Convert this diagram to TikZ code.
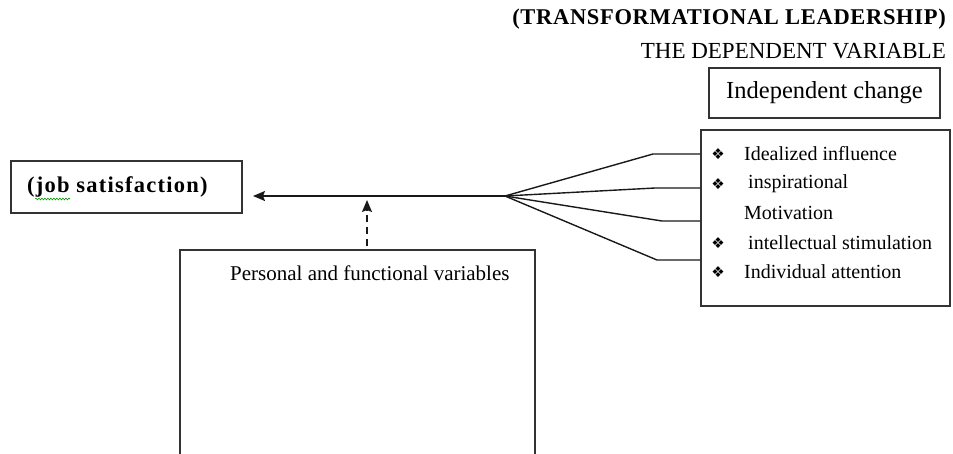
\documentclass[tikz,border=0pt]{standalone}
\usepackage{fontspec}
\setmainfont{Liberation Serif}
\newfontfamily\symfont{DejaVu Sans}
\usetikzlibrary{arrows.meta,decorations.pathmorphing}
\begin{document}
\begin{tikzpicture}[x=1pt,y=-1pt,
  box/.style={draw=black!80,line width=1.4pt,inner sep=0pt},
  conn/.style={line width=1.4pt,draw=black!90},
  txt/.style={inner sep=0pt,text=black},
  item/.style={txt,anchor=west,font=\fontsize{20}{22}\selectfont},
  bul/.style={txt,anchor=center,font=\symfont\fontsize{15}{16}\selectfont},
  tip/.style={-{Stealth[length=12pt,width=10pt,inset=2pt]}}]
\useasboundingbox (0,0) rectangle (953,453);
\clip (0,0) rectangle (953,453);

% headings
\node[txt,anchor=east,font=\bfseries\fontsize{22.5}{24}\selectfont\addfontfeatures{LetterSpace=3}] (title) at (946,19) {(TRANSFORMATIONAL LEADERSHIP)};
\node[txt,anchor=east,font=\fontsize{23}{25}\selectfont] (dep) at (946,51) {THE DEPENDENT VARIABLE};
\node[box,minimum width=231pt,minimum height=50pt,font=\fontsize{24.5}{26}\selectfont] (indep) at (824.5,93) {Independent change};

% right list box
\node[box,minimum width=249pt,minimum height=176pt] (dims) at (825.5,218) {};
\node[bul] (b1) at (718,154) {❖};
\node[item] (i1) at (744,154) {Idealized influence};
\node[bul] (b2) at (718,184) {❖};
\node[item] (i2) at (748,184) {inspirational};
\node[item] (i2b) at (744,213) {Motivation};
\node[bul] (b3) at (718,243) {❖};
\node[item] (i3) at (748,243) {intellectual stimulation};
\node[bul] (b4) at (718,272) {❖};
\node[item] (i4) at (744,272) {Individual attention};

% job satisfaction box
\node[box,minimum width=231pt,minimum height=52pt] (job) at (126.5,187) {};
\node[txt,anchor=west,font=\bfseries\fontsize{22.5}{24}\selectfont\addfontfeatures{LetterSpace=5.5}] (jobt) at (27,187) {(job satisfaction)};
\draw[green!60!black,line width=0.6pt,decorate,decoration={snake,amplitude=0.9pt,segment length=3pt}] (35,199) -- (70,199);

% personal and functional variables box (runs past the bottom edge)
\node[box,minimum width=355pt,minimum height=230pt] (pers) at (357.5,365) {};
\node[txt,anchor=west,font=\fontsize{21}{23}\selectfont] (perst) at (230,273) {Personal and functional variables};

% connectors
\coordinate (J) at (505,196);
\coordinate (jobin) at (253,196);
\coordinate (k1) at (653,154);
\coordinate (k2) at (655,188);
\coordinate (k3) at (662,221);
\coordinate (k4) at (657,260);
\draw[conn,tip] (J) -- (jobin);
\draw[conn] (J) -- (k1) -- (k1 -| dims.west);
\draw[conn] (J) -- (k2) -- (k2 -| dims.west);
\draw[conn] (J) -- (k3) -- (k3 -| dims.west);
\draw[conn] (J) -- (k4) -- (k4 -| dims.west);

\coordinate (dbot) at (367,246);
\coordinate (dtop) at (367,200);
\draw[conn,tip,dash pattern=on 7pt off 5pt] (dbot) -- (dtop);
\end{tikzpicture}
\end{document}
